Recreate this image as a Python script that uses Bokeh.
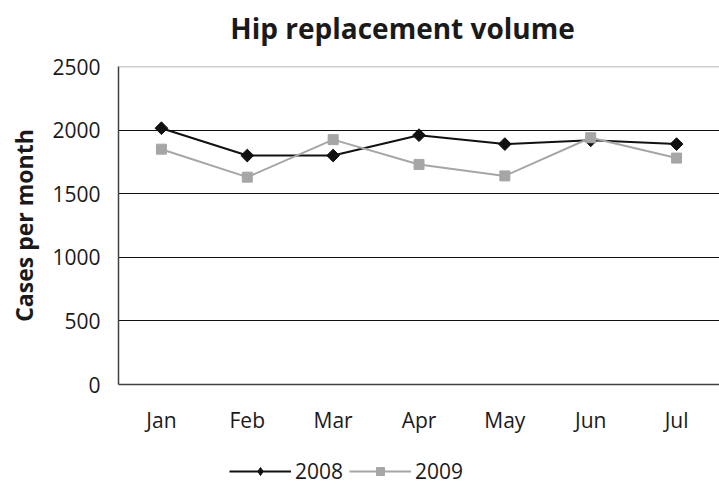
import math
from bokeh.plotting import figure
from bokeh.layouts import column
from bokeh.models import (Range1d, FixedTicker, Span, Label, Legend, LegendItem,
                          ColumnDataSource)
from bokeh.embed import file_html
from bokeh.resources import INLINE

# Monthly hip replacement cases
months = ["Jan", "Feb", "Mar", "Apr", "May", "Jun", "Jul"]
cases_2008 = [2015, 1800, 1800, 1960, 1890, 1920, 1890]
cases_2009 = [1850, 1630, 1925, 1730, 1640, 1940, 1780]
y_ticks = [0, 500, 1000, 1500, 2000, 2500]
series_names = ["2008", "2009"]

FONT = "Open Sans"
TEXT = "#1a1a1a"
DARK = "#111111"
GREY = "#a6a6a6"


def strip(height):
    """A blank, axis-free figure used for the heading and the key."""
    f = figure(width=719, height=height, x_range=Range1d(0, 1), y_range=Range1d(0, 1),
               output_backend="svg", toolbar_location=None,
               min_border=0, outline_line_color=None)
    f.axis.visible = False
    f.grid.visible = False
    return f


# heading
head = strip(46)
head.add_layout(Label(x=0.4726, y=0.41, text="Hip replacement volume",
                      text_font=FONT, text_font_style="bold", text_font_size="28px",
                      text_color=TEXT, text_align="center", text_baseline="middle"))

# main chart
p = figure(x_range=months, y_range=Range1d(0, 2500),
           frame_width=601, frame_height=318,
           output_backend="svg", toolbar_location=None,
           min_border_left=118, min_border_right=0,
           min_border_top=20, min_border_bottom=61)
p.x_range.range_padding = 0
p.outline_line_color = None
p.background_fill_color = "white"
p.border_fill_color = "white"

p.yaxis.ticker = FixedTicker(ticks=y_ticks)
p.yaxis.major_tick_out = 0
p.yaxis.major_tick_in = 0
p.yaxis.minor_tick_out = 0
p.yaxis.minor_tick_in = 0
p.yaxis.axis_line_color = "#404040"
p.yaxis.axis_line_width = 1.5
p.yaxis.major_label_text_font = FONT
p.yaxis.major_label_text_font_size = "21px"
p.yaxis.major_label_text_color = TEXT
p.yaxis.major_label_standoff = 18
p.yaxis.axis_label = "Cases per month"
p.yaxis.axis_label_text_font = FONT
p.yaxis.axis_label_text_font_style = "bold"
p.yaxis.axis_label_text_font_size = "23px"
p.yaxis.axis_label_text_color = TEXT
p.yaxis.axis_label_standoff = 9

p.xaxis.major_tick_out = 0
p.xaxis.major_tick_in = 0
p.xaxis.axis_line_color = "#404040"
p.xaxis.axis_line_width = 1.5
p.xaxis.major_label_text_font = FONT
p.xaxis.major_label_text_font_size = "21px"
p.xaxis.major_label_text_color = TEXT
p.xaxis.major_label_standoff = 21

p.xgrid.grid_line_color = None
p.ygrid.ticker = FixedTicker(ticks=[500, 1000, 1500, 2000])
p.ygrid.grid_line_color = DARK
p.ygrid.grid_line_width = 1
p.add_layout(Span(location=2500, dimension="width", line_color="#a0a0a0", line_width=1.5))

# 2008 as black diamonds (rotated squares), 2009 as grey squares on top
p.line(months, cases_2008, line_color=DARK, line_width=2)
p.scatter(months, cases_2008, marker="square", size=9, angle=math.pi / 4,
          fill_color=DARK, line_color=DARK)
p.line(months, cases_2009, line_color=GREY, line_width=2)
p.scatter(months, cases_2009, marker="square", size=10,
          fill_color=GREY, line_color=GREY)

# key under the chart; its glyph renderers sit outside the visible range
leg = strip(44)
offscreen = ColumnDataSource(data=dict(x=[-1], y=[-1]))
k08 = [leg.line("x", "y", source=offscreen, line_color=DARK, line_width=2),
       leg.scatter("x", "y", source=offscreen, marker="diamond", size=12,
                   fill_color=DARK, line_color=DARK)]
k09 = [leg.line("x", "y", source=offscreen, line_color=GREY, line_width=2),
       leg.scatter("x", "y", source=offscreen, marker="square", size=10,
                   fill_color=GREY, line_color=GREY)]
legend = Legend(items=[LegendItem(label=series_names[0], renderers=k08),
                       LegendItem(label=series_names[1], renderers=k09)],
                orientation="horizontal", location=(111, 4),
                label_text_font=FONT, label_text_font_size="21px",
                label_text_color=TEXT, glyph_width=62, label_standoff=4,
                spacing=6, border_line_color=None, background_fill_alpha=0,
                margin=0, padding=0)
leg.add_layout(legend)

open("out.html", "w").write(file_html(column(head, p, leg, spacing=0), INLINE))
